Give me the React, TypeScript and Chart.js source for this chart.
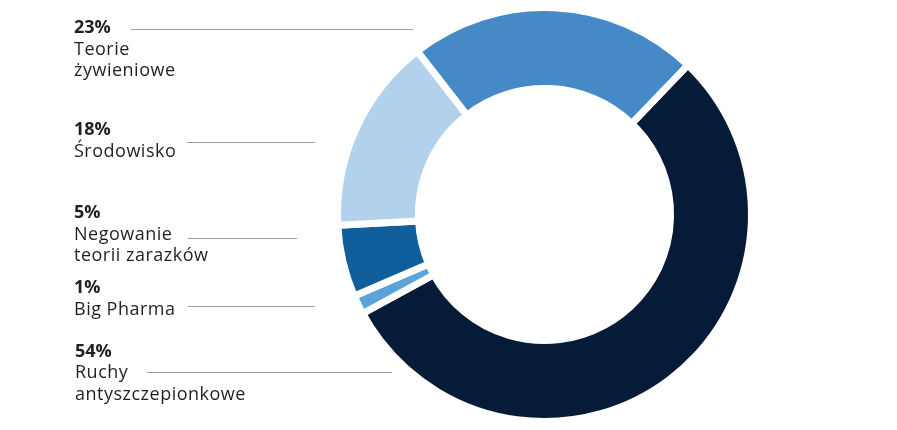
import React, { useEffect, useRef } from "react";
import { Chart, registerables } from "chart.js";

Chart.register(...registerables);

// Data (clockwise from the dark slice)
const categories: string[][] = [
  ["Ruchy", "antyszczepionkowe"],
  ["Big Pharma"],
  ["Negowanie", "teorii zarazków"],
  ["Środowisko"],
  ["Teorie", "żywieniowe"],
];
const percentLabels = ["54%", "1%", "5%", "18%", "23%"];
// slice shares as drawn in the picture
const sliceShares = [54.9, 1.5, 5.6, 15.3, 22.7];
const sliceColors = ["#061b37", "#5ba3d9", "#115e9c", "#b2d1ed", "#4589c7"];

// Label layout (page pixels), same order as categories
const labelLayout = [
  { x: 75, pctY: 356.7, lineY: 372.5, x1: 147, x2: 392 },
  { x: 74, pctY: 293.3, lineY: 306.5, x1: 188, x2: 315 },
  { x: 74, pctY: 218.3, lineY: 238.5, x1: 188, x2: 297 },
  { x: 74, pctY: 135, lineY: 142.5, x1: 187, x2: 315 },
  { x: 74, pctY: 33.3, lineY: 29.5, x1: 131, x2: 413 },
];

const FONT = '"Open Sans", "DejaVu Sans", sans-serif';

const labelPlugin = {
  id: "sideLabels",
  afterDraw(chart: any) {
    const ctx = chart.ctx as any;
    ctx.save();
    ctx.textBaseline = "alphabetic";
    ctx.textAlign = "left";
    labelLayout.forEach((l, i) => {
      ctx.strokeStyle = "#9d9d9d";
      ctx.lineWidth = 1;
      ctx.beginPath();
      ctx.moveTo(l.x1, l.lineY);
      ctx.lineTo(l.x2, l.lineY);
      ctx.stroke();

      ctx.fillStyle = "#231f20";
      ctx.letterSpacing = "0px";
      ctx.font = `700 18px ${FONT}`;
      ctx.fillText(percentLabels[i], l.x, l.pctY);
      ctx.font = `400 18px ${FONT}`;
      ctx.letterSpacing = "0.5px";
      categories[i].forEach((line, j) => {
        ctx.fillText(line, l.x, l.pctY + 21.5 * (j + 1));
      });
      ctx.letterSpacing = "0px";
    });
    ctx.restore();
  },
};

export default function App() {
  const ref = useRef<HTMLCanvasElement | null>(null);
  useEffect(() => {
    if (!ref.current) return;
    const chart = new Chart(ref.current, {
      type: "doughnut",
      data: {
        labels: categories.map((c) => c.join(" ")),
        datasets: [
          {
            data: sliceShares,
            backgroundColor: sliceColors,
            hoverBackgroundColor: sliceColors,
            borderColor: "#ffffff",
            hoverBorderColor: "#ffffff",
            borderWidth: 7,
            hoverBorderWidth: 7,
          },
        ],
      },
      options: {
        responsive: false,
        animation: false,
        devicePixelRatio: 1,
        rotation: 43.8,
        cutout: "60.9%",
        layout: { padding: { left: 334, right: 142, top: 4, bottom: 5 } },
        plugins: {
          legend: { display: false },
          tooltip: { enabled: false },
        },
        events: [],
      },
      plugins: [labelPlugin],
    });
    return () => chart.destroy();
  }, []);
  return (
    <div
      style={{
        position: "fixed",
        left: 0,
        top: 0,
        width: 897,
        height: 430,
        background: "#ffffff",
      }}
    >
      <canvas ref={ref} width={897} height={430} style={{ display: "block" }} />
    </div>
  );
}
